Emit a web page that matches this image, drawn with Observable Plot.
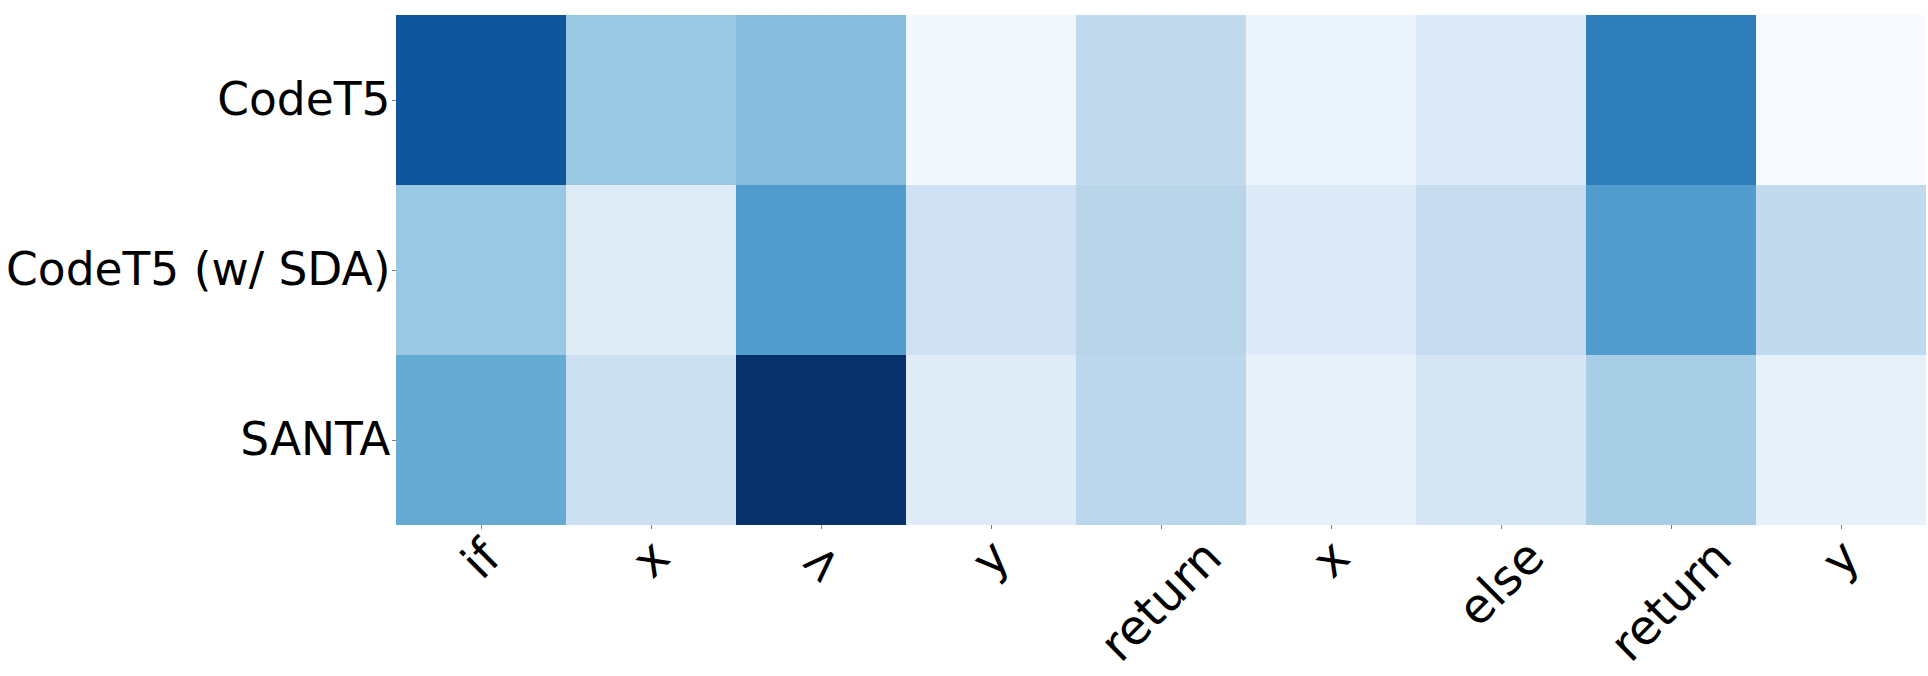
<!DOCTYPE html>
<html>
<head>
<meta charset="utf-8">
<script src="https://cdn.jsdelivr.net/npm/d3@7"></script>
<script src="https://cdn.jsdelivr.net/npm/@observablehq/plot@0.6"></script>
<style>
  html, body { margin: 0; padding: 0; background: #fff; }
  #chart svg { display: block; }
</style>
</head>
<body>
<div id="chart"></div>
<script>
const tokens = ["if", "x", ">", "y", "return", "x", "else", "return", "y"];
const models = ["CodeT5", "CodeT5 (w/ SDA)", "SANTA"];
const codet5 = [0.86, 0.38, 0.43, 0.02, 0.26, 0.06, 0.13, 0.70, 0.00];
const codet5Sda = [0.38, 0.12, 0.58, 0.20, 0.29, 0.13, 0.23, 0.58, 0.26];
const santa = [0.52, 0.21, 1.00, 0.12, 0.28, 0.08, 0.17, 0.34, 0.08];

const rows = [codet5, codet5Sda, santa];
const cells = [];
rows.forEach((vals, r) => vals.forEach((v, i) => cells.push({model: models[r], i, v})));

const yFontSize = 45.5;
const xFontSize = 48;
const fontFamily = "'DejaVu Sans', sans-serif";
const ctx = document.createElement("canvas").getContext("2d");
ctx.font = `${xFontSize}px 'DejaVu Sans'`;
const textH = xFontSize * 1.164;

const labelMarks = tokens.map((t, i) => {
  const w = ctx.measureText(t).width;
  const off = 4 + (w + textH) * Math.SQRT1_2 / 2;
  return Plot.text([{i, t}], {
    x: "i", text: "t", frameAnchor: "bottom", dy: off,
    rotate: -45, textAnchor: "middle", lineAnchor: "middle",
    fontSize: xFontSize, fill: "black"
  });
});

const chart = Plot.plot({
  width: 1928,
  height: 676,
  marginLeft: 396,
  marginRight: 2,
  marginTop: 15,
  marginBottom: 151,
  style: {fontFamily, background: "#fff", color: "black"},
  x: {type: "band", domain: d3.range(tokens.length), padding: 0, label: null},
  y: {type: "band", domain: models, padding: 0, label: null},
  color: {type: "linear", scheme: "blues", domain: [0, 1]},
  marks: [
    Plot.cell(cells, {x: "i", y: "model", fill: "v", inset: 0}),
    Plot.axisX({tickSize: 4, tickFormat: () => "", label: null, strokeOpacity: 0.5}),
    Plot.axisY({tickSize: 4, tickPadding: 2, fontSize: yFontSize, label: null, strokeOpacity: 0.5, fill: "black"}),
    ...labelMarks
  ]
});
document.getElementById("chart").appendChild(chart);
</script>
</body>
</html>
